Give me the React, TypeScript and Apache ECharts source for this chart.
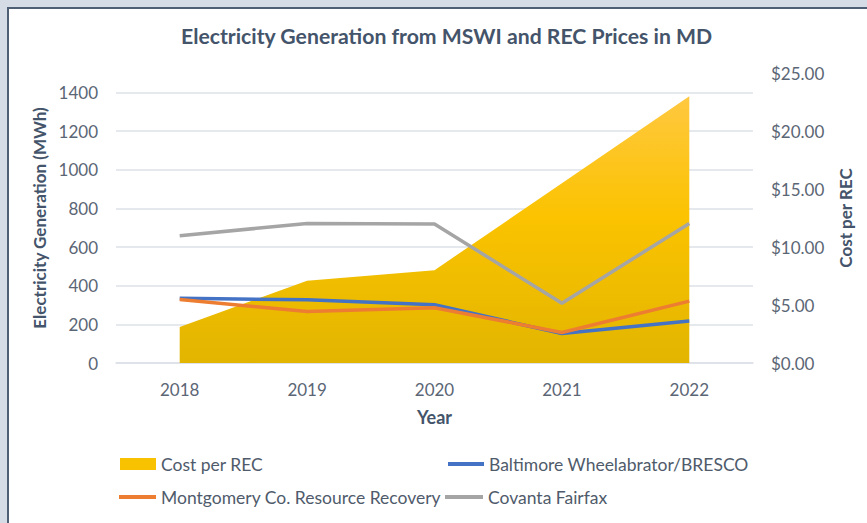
import React, { useEffect, useRef } from "react";
import * as echarts from "echarts";

const years = ["2018", "2019", "2020", "2021", "2022"];
const costPerREC = [3.1, 7.1, 8.0, 15.5, 23.0];
const baltimore = [335, 327, 301, 152, 217];
const montgomery = [328, 266, 286, 158, 320];
const covanta = [658, 722, 719, 309, 722];

const FONT = "Lato";
const TICK = "#5b6675";
const DARK = "#44546a";

export default function App() {
  const ref = useRef<HTMLDivElement>(null);
  useEffect(() => {
    if (!ref.current) return;
    const chart = echarts.init(ref.current, undefined, { renderer: "svg" });
    const legendText = { color: "#4f5b6b", fontFamily: FONT, fontSize: 17.5 };
    chart.setOption({
      animation: false,
      title: {
        text: "Electricity Generation from MSWI and REC Prices in MD",
        left: 176,
        top: 20,
        textStyle: { color: DARK, fontFamily: FONT, fontWeight: "bold", fontSize: 21.2 },
      },
      grid: { left: 116, right: 114, top: 73, bottom: 160 },
      legend: [
        {
          left: 120, top: 455, padding: 0, icon: "rect", itemWidth: 36, itemHeight: 12,
          data: ["Cost per REC"], textStyle: legendText,
        },
        {
          left: 448, top: 455, padding: 0, icon: "rect", itemWidth: 36, itemHeight: 4,
          data: ["Baltimore Wheelabrator/BRESCO"], textStyle: legendText,
        },
        {
          left: 119, top: 488, padding: 0, icon: "rect", itemWidth: 37, itemHeight: 4,
          data: ["Montgomery Co. Resource Recovery"], textStyle: legendText,
        },
        {
          left: 445, top: 488, padding: 0, icon: "rect", itemWidth: 38, itemHeight: 4,
          data: ["Covanta Fairfax"], textStyle: legendText,
        },
      ],
      xAxis: {
        type: "category",
        data: years,
        boundaryGap: true,
        name: "Year",
        nameLocation: "middle",
        nameGap: 45,
        nameTextStyle: { color: DARK, fontFamily: FONT, fontWeight: "bold", fontSize: 18 },
        axisLine: { show: true, lineStyle: { color: "#dde1e7", width: 1.5 } },
        axisTick: { show: false },
        axisLabel: { color: TICK, fontFamily: FONT, fontSize: 17, margin: 18 },
      },
      yAxis: [
        {
          type: "value",
          min: 0,
          max: 1500,
          interval: 200,
          name: "Electricity Generation (MWh)",
          nameLocation: "middle",
          nameRotate: 90,
          nameGap: 51,
          nameTextStyle: { color: DARK, fontFamily: FONT, fontWeight: "bold", fontSize: 17 },
          axisLine: { show: false },
          axisTick: { show: false },
          axisLabel: {
            color: TICK, fontFamily: FONT, fontSize: 17, margin: 18, showMaxLabel: false,
            formatter: (v: number) => String(v),
          },
          splitLine: { show: true, showMaxLine: false, lineStyle: { color: "#dde1e7", width: 1.5 } },
        },
        {
          type: "value",
          min: 0,
          max: 25,
          interval: 5,
          name: "Cost per REC",
          nameLocation: "middle",
          nameRotate: 90,
          nameGap: 84,
          nameTextStyle: { color: DARK, fontFamily: FONT, fontWeight: "bold", fontSize: 17 },
          axisLine: { show: false },
          axisTick: { show: false },
          splitLine: { show: false },
          axisLabel: {
            color: TICK, fontFamily: FONT, fontSize: 17, margin: 18,
            formatter: (v: number) => "$" + v.toFixed(2),
          },
        },
      ],
      series: [
        {
          name: "Cost per REC",
          type: "line",
          yAxisIndex: 1,
          data: costPerREC,
          symbol: "none",
          lineStyle: { width: 0 },
          itemStyle: { color: "#f8c200" },
          areaStyle: {
            opacity: 1,
            color: new echarts.graphic.LinearGradient(0, 0, 0, 1, [
              { offset: 0, color: "#ffc840" },
              { offset: 0.45, color: "#fbc300" },
              { offset: 1, color: "#e2b500" },
            ]),
          },
        },
        {
          name: "Baltimore Wheelabrator/BRESCO",
          type: "line",
          data: baltimore,
          symbol: "none",
          itemStyle: { color: "#4472c4" },
          lineStyle: { color: "#4472c4", width: 3.5 },
        },
        {
          name: "Montgomery Co. Resource Recovery",
          type: "line",
          data: montgomery,
          symbol: "none",
          itemStyle: { color: "#ed7d31" },
          lineStyle: { color: "#ed7d31", width: 3.5 },
        },
        {
          name: "Covanta Fairfax",
          type: "line",
          data: covanta,
          symbol: "none",
          itemStyle: { color: "#a5a5a5" },
          lineStyle: { color: "#a5a5a5", width: 3.5 },
        },
      ],
    });
    return () => chart.dispose();
  }, []);

  return (
    <div
      style={{
        position: "fixed", left: 0, top: 0, width: 867, height: 523,
        background: "#d6dce5", overflow: "hidden",
      }}
    >
      <div
        style={{
          position: "absolute", left: 7, top: 7, width: 900, height: 600,
          background: "#ffffff", borderLeft: "2px solid #4e5e73", borderTop: "2px solid #4e5e73",
        }}
      />
      <div ref={ref} style={{ position: "absolute", left: 0, top: 0, width: 867, height: 523 }} />
    </div>
  );
}
